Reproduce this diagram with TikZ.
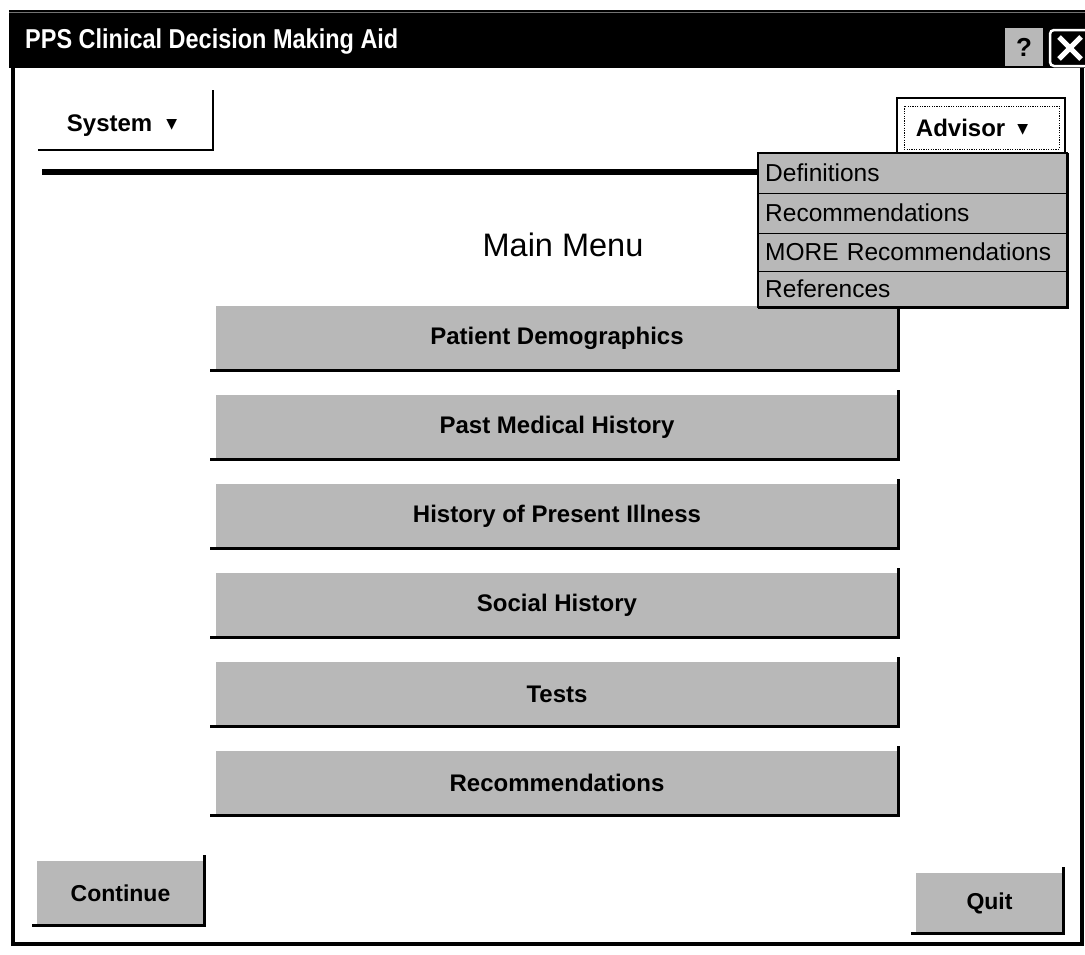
\documentclass[tikz,border=0pt]{standalone}
\usepackage{fontspec}
\setmainfont{Liberation Sans}
\newfontfamily\titlefont[FakeStretch=0.86]{Liberation Sans}
\newfontfamily\symfont{DejaVu Sans}
\definecolor{btngray}{gray}{0.72}
\newcommand{\dropmark}{\raisebox{3pt}{\symfont\fontsize{14}{14}\selectfont ▼}}
\begin{document}
\begin{tikzpicture}[x=1pt,y=-1pt,
  shadow/.style={line width=3pt,line cap=rect},
  btnlabel/.style={font=\fontsize{24}{28}\selectfont\bfseries,inner sep=0pt},
  bigbtn/.style={fill=btngray,minimum width=682pt,minimum height=64pt,inner sep=0pt,
                 font=\fontsize{24}{28}\selectfont\bfseries},
  smallbtn/.style={fill=btngray,inner sep=0pt,font=\fontsize{23}{28}\selectfont\bfseries},
  menuitem/.style={fill=btngray,minimum width=309pt,inner sep=0pt,
                   font=\fontsize{24.5}{28}\selectfont,anchor=north west,
                   text width=303pt,align=left}]
\useasboundingbox (0,0) rectangle (1085,954);

% window title bar
\fill[black] (9,10) rectangle (1085,68);
\draw[black!55,line width=1pt] (9,12) -- (1085,12);
\node[anchor=base west,inner sep=0pt,text=white,
      font=\titlefont\bfseries\fontsize{27.3}{30}\selectfont] (title) at (25,48)
  {PPS Clinical Decision Making Aid};

% help and close boxes
\node[fill=btngray,minimum width=38pt,minimum height=38pt,inner sep=0pt,
      font=\fontsize{26}{28}\selectfont\bfseries] (help) at (1024,47) {?};
\draw[white,line width=2.5pt,rounded corners=4pt] (1050,30) rectangle (1095,66);
\coordinate (xa) at (1059,37);
\coordinate (xb) at (1081,59);
\coordinate (xc) at (1059,59);
\coordinate (xd) at (1081,37);
\draw[white,line width=5pt] (xa) -- (xb) (xc) -- (xd);

% window frame
\draw[line width=4pt] (13,68) -- (13,944) -- (1082,944) -- (1082,68);

% System menu button
\node[fill=white,minimum width=173pt,minimum height=57pt,inner sep=0pt] (system) at (126.5,121.5) {};
\draw[line width=2.5pt] ([xshift=-2pt]system.south west) -- (system.south east) -- ([yshift=3pt]system.north east);
\node[btnlabel] (systemlbl) at (122,126) {System\hspace{14pt}\dropmark};

% separator rule under the menu bar
\coordinate (ruleL) at (42,172);
\coordinate (ruleR) at (758,172);
\draw[line width=6pt] (ruleL) -- (ruleR);

% main menu
\node[inner sep=0pt,font=\fontsize{32.5}{36}\selectfont] (heading) at (563,245) {Main Menu};

\node[bigbtn] (b1) at (557,338) {Patient Demographics};
\node[bigbtn] (b2) at (557,427) {Past Medical History};
\node[bigbtn] (b3) at (557,516) {History of Present Illness};
\node[bigbtn] (b4) at (557,605) {Social History};
\node[bigbtn] (b5) at (557,694) {Tests};
\node[bigbtn] (b6) at (557,783) {Recommendations};
\foreach \b in {b1,b2,b3,b4,b5,b6}{
  \draw[shadow] ([xshift=-4pt]\b.south west) -- (\b.south east) -- ([yshift=3pt]\b.north east);
}

% Advisor menu button with focus ring
\node[fill=white,draw=black,line width=1.8pt,minimum width=168pt,minimum height=55pt,inner sep=0pt] (advisor) at (981,125.5) {};
\draw[line width=0.9pt,dash pattern=on 1.2pt off 1.2pt] (904,106) rectangle (1059,149);
\node[btnlabel] (advisorlbl) at (972,128) {Advisor\hspace{12pt}\dropmark};

% Advisor drop-down list, open over the main menu
\node[menuitem,minimum height=40pt] (m1) at (758,153) {\hspace*{4pt}Definitions};
\node[menuitem,minimum height=40pt] (m2) at (758,193) {\hspace*{4pt}Recommendations};
\node[menuitem,minimum height=38pt] (m3) at (758,233) {\hspace*{4pt}MORE Recommendations};
\node[menuitem,minimum height=36pt] (m4) at (758,271) {\hspace*{4pt}References};
\draw[line width=1.2pt] (m1.south west) -- (m1.south east);
\draw[line width=1.2pt] (m2.south west) -- (m2.south east);
\draw[line width=1.2pt] (m3.south west) -- (m3.south east);
\draw[line width=2pt] (m1.north west) rectangle (m4.south east);
\draw[line width=3pt] (m4.south west) -- (m4.south east) -- (m1.north east);

% Continue and Quit
\node[smallbtn,minimum width=167pt,minimum height=64pt] (continue) at (120.5,893) {Continue};
\draw[shadow] ([xshift=-3pt]continue.south west) -- (continue.south east) -- ([yshift=4pt]continue.north east);
\node[smallbtn,minimum width=147pt,minimum height=60pt] (quit) at (989.5,903) {Quit};
\draw[shadow] ([xshift=-3pt]quit.south west) -- (quit.south east) -- ([yshift=4pt]quit.north east);
\end{tikzpicture}
\end{document}
